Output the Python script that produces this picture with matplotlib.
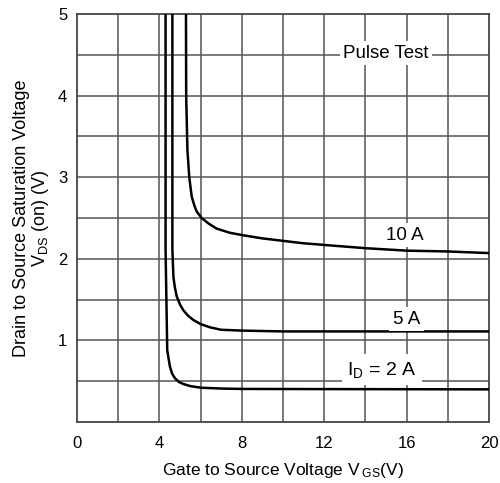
import matplotlib
matplotlib.use("Agg")
import matplotlib.pyplot as plt

plt.rcParams['font.family'] = ['Liberation Sans', 'DejaVu Sans']
plt.rcParams['mathtext.fontset'] = 'custom'
plt.rcParams['mathtext.rm'] = 'Liberation Sans'
plt.rcParams['mathtext.it'] = 'Liberation Sans'

## curves
vgs_10a = [5.29, 5.30, 5.36, 5.45, 5.57, 5.70, 5.81, 6.05, 6.40, 6.78, 7.40, 8.03,
           9.0, 10.0, 11.0, 12.0, 14.0, 16.0, 18.0, 20.0]
vds_10a = [5.0, 4.0, 3.33, 3.0, 2.76, 2.65, 2.58, 2.50, 2.43, 2.37, 2.32, 2.29,
           2.25, 2.22, 2.19, 2.17, 2.13, 2.10, 2.09, 2.07]

vgs_5a = [4.63, 4.63, 4.68, 4.75, 4.84, 5.0, 5.16, 5.4, 5.65, 6.0, 6.46, 7.0, 8.03, 10.0, 20.0]
vds_5a = [5.0, 2.11, 1.78, 1.65, 1.54, 1.44, 1.37, 1.30, 1.25, 1.20, 1.16, 1.13, 1.12, 1.11, 1.11]

vgs_2a = [4.30, 4.30, 4.38, 4.51, 4.62, 4.76, 4.95, 5.16, 5.5, 6.02, 7.0, 8.03, 20.0]
vds_2a = [5.0, 2.11, 0.88, 0.68, 0.59, 0.535, 0.49, 0.466, 0.44, 0.42, 0.41, 0.405, 0.40]

x_ticks = [0, 4, 8, 12, 16, 20]
y_ticks = [1, 2, 3, 4, 5]

fig = plt.figure(figsize=(5, 4.83), dpi=100)
ax = fig.add_axes([0.154, 0.1263, 0.824, 0.8447])

ax.set_xlim(0, 20)
ax.set_ylim(0, 5)

## grid every 2 V and 0.5 V
for gx in range(2, 20, 2):
    ax.axvline(gx, color='#555555', linewidth=1.1, zorder=1)
for i in range(1, 10):
    ax.axhline(i * 0.5, color='#555555', linewidth=1.1, zorder=1)

for s in ax.spines.values():
    s.set_color('#444444')
    s.set_linewidth(1.3)

ax.plot(vgs_10a, vds_10a, color='k', linewidth=1.8, zorder=3)
ax.plot(vgs_5a, vds_5a, color='k', linewidth=1.8, zorder=3)
ax.plot(vgs_2a, vds_2a, color='k', linewidth=1.8, zorder=3)

box = dict(facecolor='white', edgecolor='none', pad=2.5)
ax.text(15.0, 4.52, 'Pulse Test', ha='center', va='center', fontsize=13.5, bbox=box, zorder=4)
ax.text(15.9, 2.29, '10 A', ha='center', va='center', fontsize=13.5, bbox=box, zorder=4)
ax.text(16.0, 1.26, '5 A', ha='center', va='center', fontsize=13.5, bbox=box, zorder=4)
ax.text(14.8, 0.64, r'I$_{\rm D}$ = 2 A', ha='center', va='center', fontsize=14,
        bbox=dict(facecolor='white', edgecolor='none', pad=4), zorder=4)

ax.set_xticks(x_ticks)
ax.set_yticks(y_ticks)
ax.tick_params(axis='both', length=0, labelsize=12)
ax.tick_params(axis='x', pad=10)
ax.tick_params(axis='y', pad=7)

ax.set_xlabel(r'Gate to Source Voltage V$\,_{\rm GS}$(V)', fontsize=12.5, labelpad=7)
ax.set_ylabel('Drain to Source Saturation Voltage\n' + r'V$_{\rm DS}$ (on) (V)',
              fontsize=13, labelpad=5, linespacing=1.0)

fig.savefig('out.png', dpi=100)
